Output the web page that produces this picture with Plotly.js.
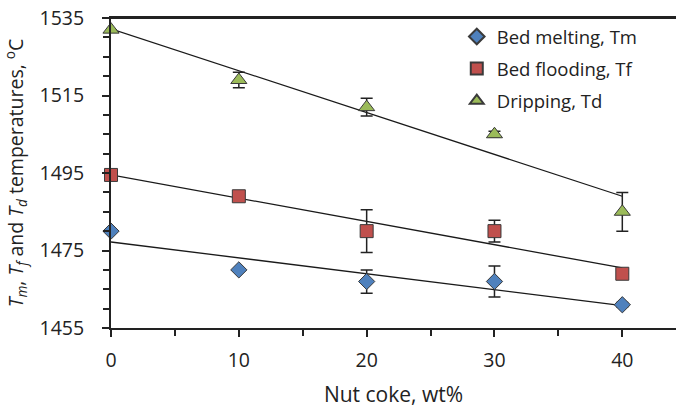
<!DOCTYPE html>
<html>
<head>
<meta charset="utf-8">
<script src="https://cdn.plot.ly/plotly-3.0.1.min.js"></script>
<style>html,body{margin:0;padding:0;background:#fff;}#chart{width:676px;height:410px;}</style>
</head>
<body>
<div id="chart"></div>
<script>
// Data
const nutCoke = [0, 10, 20, 30, 40];

const tmName = "Bed melting, Tm";
const tmValues = [1480, 1470, 1467, 1467, 1461];
const tmErrors = [0, 0, 3, 4, 0.6];

const tfName = "Bed flooding, Tf";
const tfValues = [1494.5, 1489, 1480, 1480, 1469];
const tfErrors = [0, 1, 5.5, 2.8, 0];

const tdName = "Dripping, Td";
const tdValues = [1532, 1519, 1512, 1505, 1485];
const tdErrors = [0, 2, 2.3, 0.8, 5];

const xTickVals = [0, 10, 20, 30, 40];
const yTickVals = [1455, 1475, 1495, 1515, 1535];

// Linear least-squares trendline (as in the original spreadsheet chart)
function fitLine(xs, ys) {
  const n = xs.length;
  const mx = xs.reduce((a, b) => a + b, 0) / n;
  const my = ys.reduce((a, b) => a + b, 0) / n;
  let sxy = 0, sxx = 0;
  for (let i = 0; i < n; i++) { sxy += (xs[i] - mx) * (ys[i] - my); sxx += (xs[i] - mx) ** 2; }
  const slope = sxy / sxx, icpt = my - slope * mx;
  const x0 = Math.min(...xs), x1 = Math.max(...xs);
  return { x: [x0, x1], y: [icpt + slope * x0, icpt + slope * x1] };
}

const FONT = "Open Sans, sans-serif";

function trend(ys) {
  const f = fitLine(nutCoke, ys);
  return { x: f.x, y: f.y, mode: "lines", type: "scatter", showlegend: false, hoverinfo: "skip",
           cliponaxis: false, line: { color: "#1a1a1a", width: 1.3 } };
}
function pts(name, ys, errs, symbol, color, size, group) {
  return { x: nutCoke, y: ys, name: name, mode: "markers", type: "scatter", legendgroup: group,
           cliponaxis: false,
           marker: { symbol: symbol, size: size, color: color, line: { color: "#3a3a3a", width: 1 } },
           error_y: { type: "data", array: errs, visible: true, color: "#222", thickness: 1.5, width: 6 } };
}

const traces = [
  trend(tmValues), trend(tfValues), trend(tdValues),
  pts(tmName, tmValues, tmErrors, "diamond", "#4f81bd", 12.5, "a"),
  pts(tfName, tfValues, tfErrors, "square", "#c0504d", 13, "b"),
  pts(tdName, tdValues, tdErrors, "triangle-up", "#9bbb59", 14, "c")
];

const layout = {
  width: 676, height: 410,
  margin: { l: 111, r: 0, t: 18, b: 82 },
  paper_bgcolor: "#fff", plot_bgcolor: "#fff",
  font: { family: FONT, size: 19, color: "#222" },
  showlegend: true,
  legend: { x: 0.612, y: 1.0, xanchor: "left", yanchor: "top", bgcolor: "rgba(0,0,0,0)",
            font: { family: FONT, size: 18.5, color: "#222" }, tracegroupgap: 5, itemwidth: 30,
            itemsizing: "constant" },
  xaxis: {
    range: [0, 44.2], tickvals: xTickVals, ticktext: xTickVals.map(String),
    showgrid: false, zeroline: false, showline: true, linecolor: "#222", linewidth: 2,
    mirror: true, ticks: "outside", ticklen: 7, tickwidth: 2, tickcolor: "#222",
    minor: { dtick: 5, tick0: 0, ticks: "outside", ticklen: 6, tickwidth: 2, tickcolor: "#222", showgrid: false },
    tickfont: { family: FONT, size: 19.5, color: "#222" }, ticklabelstandoff: 7,
    title: { text: "Nut coke, wt%", font: { family: FONT, size: 21, color: "#222" }, standoff: 15 }
  },
  yaxis: {
    range: [1455, 1535], tickvals: yTickVals, ticktext: yTickVals.map(String),
    showgrid: false, zeroline: false, showline: true, linecolor: "#222", linewidth: 2,
    ticks: "outside", ticklen: 7, tickwidth: 2, tickcolor: "#222",
    minor: { dtick: 5, tick0: 1455, ticks: "outside", ticklen: 6, tickwidth: 2, tickcolor: "#222", showgrid: false },
    tickfont: { family: FONT, size: 19.5, color: "#222" }, ticklabelstandoff: 14,
    title: { text: "<i>T</i><sub><i>m</i></sub>, <i>T</i><sub><i>f</i></sub> and <i>T</i><sub><i>d</i></sub> temperatures, <sup>o</sup>C",
             font: { family: FONT, size: 19.5, color: "#222" }, standoff: 13 }
  },
  shapes: [
    { type: "line", xref: "paper", yref: "y", x0: 0, x1: 1, y0: 1535, y1: 1535, layer: "above",
      line: { color: "#222", width: 2 } }
  ]
};

Plotly.newPlot("chart", traces, layout, { displayModeBar: false, staticPlot: true });
</script>
</body>
</html>
